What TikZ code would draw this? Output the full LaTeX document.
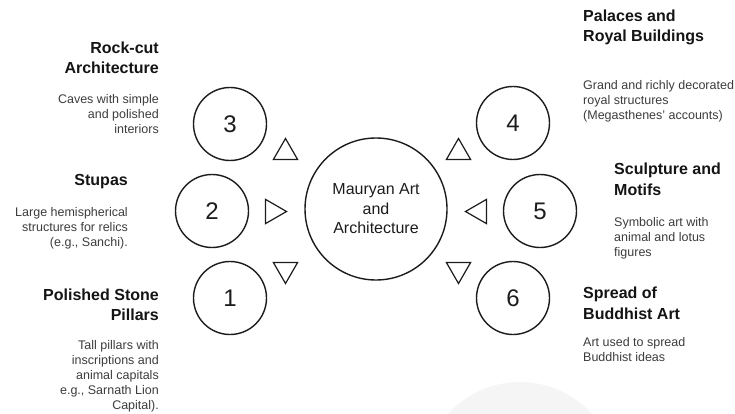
\documentclass[tikz,border=0pt]{standalone}
\usepackage{fontspec}
\setmainfont{Liberation Sans}
\usepackage{tikz}
\usetikzlibrary{shapes.geometric}
\definecolor{inkdark}{HTML}{141414}
\definecolor{inkgray}{HTML}{3C3C3C}
\definecolor{ringline}{HTML}{1C1C1C}
\definecolor{ghost}{HTML}{F5F5F5}
\tikzstyle{headline} = [font=\bfseries\fontsize{16}{20.5}\selectfont, text=inkdark, inner sep=0pt]
\tikzstyle{blurb} = [font=\fontsize{12.5}{15}\selectfont, text=inkgray, inner sep=0pt]
\tikzstyle{numbered} = [circle, draw=ringline, line width=1.4pt, minimum size=73pt, inner sep=0pt, font=\fontsize{24}{24}\selectfont, text=ringline]
\tikzstyle{hub} = [circle, draw=ringline, line width=1.4pt, minimum size=142pt, inner sep=0pt, align=center, font=\fontsize{16}{19.5}\selectfont, text=ringline]
\tikzstyle{pointer} = [regular polygon, regular polygon sides=3, draw=ringline, line width=1.2pt, minimum size=28pt, inner sep=0pt]

\begin{document}
\begin{tikzpicture}[x=1pt, y=-1pt]
			\useasboundingbox (0,0) rectangle (735,414);
			\begin{scope}
			\clip (0,0) rectangle (735,414);
			\fill[ghost] (520,479) circle (97pt);
			\end{scope}

			\node (hub) [hub] at (376,209) {Mauryan Art\\and\\Architecture};
			\node (one) [numbered] at (230,298) {1};
			\node (two) [numbered] at (212,211) {2};
			\node (three) [numbered] at (230,124) {3};
			\node (four) [numbered] at (513,123) {4};
			\node (five) [numbered] at (540,211) {5};
			\node (six) [numbered] at (513,298) {6};

			\node (tri1) [pointer, rotate=180] at (285.5,269.5) {};
			\node (tri2) [pointer, rotate=-90] at (272.5,211.5) {};
			\node (tri3) [pointer] at (285.5,152.5) {};
			\node (tri4) [pointer] at (458.5,152.5) {};
			\node (tri5) [pointer, rotate=90] at (479.5,211.5) {};
			\node (tri6) [pointer, rotate=180] at (458.5,269.5) {};

			\node (rock) [headline, anchor=north east, align=right] at (159,41.5) {Rock-cut\\Architecture};
			\node (rockdesc) [blurb, anchor=north east, align=right] at (159,94) {Caves with simple\\and polished\\interiors};
			\node (stupa) [headline, anchor=north east, align=right] at (128,174.5) {Stupas};
			\node (stupadesc) [blurb, anchor=north east, align=right] at (128,207) {Large hemispherical\\structures for relics\\(e.g., Sanchi).};
			\node (pillar) [headline, anchor=north east, align=right] at (159,288.5) {Polished Stone\\Pillars};
			\node (pillardesc) [blurb, anchor=north east, align=right] at (159,340) {Tall pillars with\\inscriptions and\\animal capitals\\e.g., Sarnath Lion\\Capital).};

			\node (palace) [headline, anchor=north west, align=left] at (583,9.5) {Palaces and\\Royal Buildings};
			\node (palacedesc) [blurb, anchor=north west, align=left] at (583,80) {Grand and richly decorated\\royal structures\\(Megasthenes' accounts)};
			\node (sculpt) [headline, anchor=north west, align=left] at (614,163) {Sculpture and\\Motifs};
			\node (sculptdesc) [blurb, anchor=north west, align=left] at (614,217) {Symbolic art with\\animal and lotus\\figures};
			\node (spread) [headline, anchor=north west, align=left] at (583,287) {Spread of\\Buddhist Art};
			\node (spreaddesc) [blurb, anchor=north west, align=left] at (583,337) {Art used to spread\\Buddhist ideas};
			\end{tikzpicture}
\end{document}
